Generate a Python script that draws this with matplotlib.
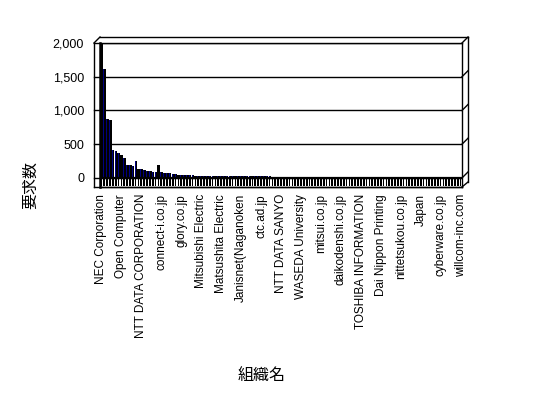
import matplotlib
matplotlib.use("Agg")
import matplotlib.pyplot as plt
from matplotlib.ticker import StrMethodFormatter
import numpy as np

# request counts per organisation (sorted roughly descending)
counts = [
    1990, 1610, 880, 860, 410, 400, 370, 340, 300, 195,
    185, 180, 250, 135, 130, 120, 110, 100, 95, 95,
    195, 85, 80, 80, 70, 65, 60, 48, 45, 42,
    40, 40, 38, 36, 35, 33, 32, 30, 30, 29,
    29, 28, 28, 27, 27, 26, 26, 26, 25, 25,
    25, 24, 24, 24, 23, 23, 23, 22, 22, 22,
    21, 21, 21, 20, 20, 20, 19, 19, 19, 18,
    18, 18, 6, 6, 6, 5, 5, 5, 5, 5,
    5, 4, 4, 4, 4, 4, 4, 4, 4, 4,
    4, 3, 3, 3, 3, 3, 3, 3, 3, 3,
    3, 3, 3, 3, 3, 2, 2, 2, 2, 2,
    2, 2, 2, 2, 2, 2, 2, 2, 2, 2,
    2, 2, 2, 2, 2, 2, 2,
]
# only every 7th organisation name is shown on the axis
org_labels = [
    "NEC Corporation", "Open Computer", "NTT DATA CORPORATION", "connect-i.co.jp",
    "glory.co.jp", "Mitsubishi Electric", "Matsushita Electric", "Janisnet(Naganoken",
    "ctc.ad.jp", "NTT DATA SANYO", "WASEDA University", "mitsui.co.jp",
    "daikodenshi.co.jp", "TOSHIBA INFORMATION", "Dai Nippon Printing",
    "nittetsukou.co.jp", "Japan", "cyberware.co.jp", "willcom-inc.com",
]
label_step = 7
y_ticks = [0, 500, 1000, 1500, 2000]

W, H = 548, 398
fig = plt.figure(figsize=(W / 100, H / 100), dpi=100)
# plot area in pixels: x 100..462, y 43..187
ax = fig.add_axes([100 / W, 1 - 187 / H, 362 / W, 144 / H])

n = len(counts)
idx = np.arange(n)
y_lo, y_hi = -134, 2000
ax.set_xlim(-0.5, n - 0.5)
ax.set_ylim(y_lo, y_hi)

# floor stripes (3D base of each column)
ax.bar(idx, -120, width=0.6, color="black", zorder=2)
# columns: dark sides + thin navy front
ax.bar(idx + 0.1, counts, width=0.95, color="black", zorder=3)
ax.bar(idx - 0.15, counts, width=0.3, color="#000080", zorder=4)

ax.set_yticks(y_ticks)
ax.yaxis.set_major_formatter(StrMethodFormatter("{x:,.0f}"))
ax.grid(axis="y", color="black", lw=1, zorder=1)
ax.axhline(0, color="black", lw=1.6, zorder=5)

ax.set_xticks(idx[::label_step])
ax.set_xticklabels(org_labels, rotation=90, fontsize=8.5, family="Liberation Sans")
for t in ax.get_yticklabels():
    t.set_family("Liberation Sans")
    t.set_fontsize(9)
ax.tick_params(axis="y", length=0, pad=11.5)
ax.tick_params(axis="x", length=0, pad=5)

for s in ax.spines.values():
    s.set_color("black")
    s.set_linewidth(1)
ax.spines["left"].set_linewidth(1.8)

# 3D box edges
dx = 6 / 362
dy_ax = 6 / 144
dy_data = 6 / 144 * (y_hi - y_lo)
kw = dict(color="black", lw=1, clip_on=False, zorder=6)
ytr = ax.get_yaxis_transform()
for v in y_ticks:
    ax.plot([-dx, 0], [v, v], transform=ytr, **kw)
    ax.plot([1, 1 + dx], [v, v + dy_data], transform=ytr, **kw)
ta = ax.transAxes
ax.plot([-dx, -dx], [0, 1], transform=ta, **kw)
ax.plot([-dx, 1], [0, 0], transform=ta, **kw)
ax.plot([-dx, 0], [1, 1 + dy_ax], transform=ta, **kw)
ax.plot([0, 1 + dx], [1 + dy_ax, 1 + dy_ax], transform=ta, **kw)
ax.plot([1 + dx, 1 + dx], [1 + dy_ax, 5 / 144], transform=ta, **kw)
ax.plot([1, 1 + dx], [0, 5 / 144], transform=ta, **kw)

cjk = ["Noto Sans CJK JP", "DejaVu Sans"]
fig.text(31 / W, 1 - 185 / H, "要求数", rotation=90, ha="center", va="center",
         fontsize=11.5, family=cjk)
fig.text(262 / W, 1 - 375 / H, "組織名", ha="center", va="center",
         fontsize=11.5, family=cjk)

fig.savefig("out.png", dpi=100)
